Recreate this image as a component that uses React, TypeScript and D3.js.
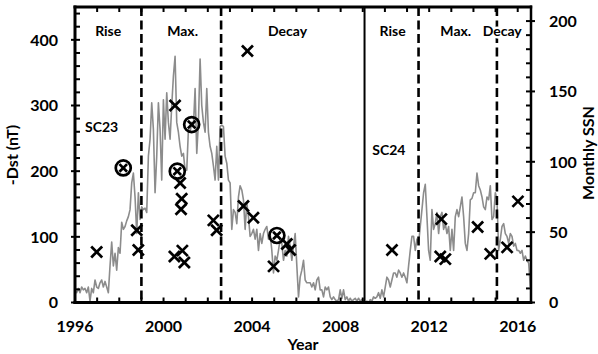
import React from "react";
import * as d3 from "d3";

// Monthly sunspot number sampled on a regular time grid starting at 1996.0
const ssnStart = 1996.0;
const ssnStep = 0.07535; // years between samples
const ssnValues = [
  8, 7, 10, 7, 11, 9, 10, 7, 11, 1, 10, 7, 16, 11, 10, 14, 16, 11, 15, 11,
  7, 26, 43, 26, 35, 23, 39, 35, 57, 52, 54, 58, 61, 66, 85, 92, 75, 49, 78, 59,
  68, 66, 67, 64, 104, 116, 142, 123, 78, 104, 142, 123, 87, 144, 116, 149, 128, 116, 140, 161,
  175, 128, 121, 111, 104, 106, 94, 94, 123, 121, 128, 125, 152, 106, 128, 173, 140, 128, 121, 152,
  121, 111, 106, 97, 87, 111, 87, 125, 126, 125,
  104, 99, 87, 85, 52, 66, 64, 56, 75, 83, 80, 73, 52, 71, 61, 47, 49, 52, 45, 52,
  37, 49, 42, 49, 52, 54, 45, 49, 37, 21, 33, 30, 37, 45, 42, 30, 37, 33, 47, 40,
  30, 40, 49, 26, 4, 18, 23, 30, 16, 14, 14, 14, 11, 14, 9, 16, 18, 9, 9, 4,
  11, 9, 11, 4, 2, 4, 2, 1, 2, 9, 3, 9, 2, 4, 1, 3, 1, 2, 3, 1,
  3, 1, 2, 1, 0, 1, 0, 2, 1, 4, 3, 4, 7, 3, 9, 4, 11, 18, 16, 11,
  16, 21, 21, 18, 23, 21, 18, 21, 18, 14, 26, 37, 47, 47, 37, 45, 42, 54, 66, 78,
  84, 61, 37, 30, 66, 52, 56, 64, 49, 61, 64, 52, 56, 49, 54, 37, 52, 37, 61, 66,
  61, 68, 75, 61, 42, 37, 49, 73, 74, 78, 78, 92, 83, 80, 75, 68, 66, 75, 73, 83,
  59, 61, 78, 73, 37, 45, 54, 56, 49, 47, 42, 49, 47, 40, 42, 37, 37, 35, 37, 30,
  33, 30, 28, 11,
];

// Storm events: plain crosses
const crossYears = [
  1996.98, 1998.79, 1998.86, 2000.52, 2000.49, 2000.75, 2000.82, 2000.79, 2000.85, 2000.94,
  2002.25, 2002.4, 2003.79, 2003.61, 2004.06, 2005.57, 2005.72, 2004.97,
  2010.32, 2012.55, 2012.5, 2012.73, 2014.19, 2014.76, 2015.52, 2016.01,
];
const crossDst = [
  77, 110, 80, 300, 70, 182, 158, 142, 79, 61,
  125, 110, 383, 147, 129, 89, 80, 55,
  80, 127, 70, 66, 115, 74, 84, 154,
];

// Storm events: circled crosses
const circleYears = [1998.18, 2000.62, 2001.27, 2005.12];
const circleDst = [205, 200, 271, 102];

// Phase boundaries
const dashedYears = [1999.0, 2002.6, 2011.52, 2015.06];
const cycleBoundary = 2009.08;

const phaseLabels = ["Rise", "Max.", "Decay", "Rise", "Max.", "Decay"];
const phaseLabelYears = [1997.5, 2000.86, 2005.6, 2010.35, 2013.2, 2015.3];
const cycleLabels = ["SC23", "SC24"];
const cycleLabelYears = [1997.2, 2010.18];
const cycleLabelDst = [259, 225];

const xTickLabels = [1996, 2000, 2004, 2008, 2012, 2016];
const leftTicks = [0, 100, 200, 300, 400];
const rightTicks = [0, 50, 100, 150, 200];

const W = 598;
const H = 354;
const left = 75;
const right = 531;
const top = 7;
const bottom = 302.5;
const font = "Lato, 'Open Sans', sans-serif";

export default function App() {
  const x = d3.scaleLinear().domain([1996, 2016.6]).range([left, right]);
  const yL = d3.scaleLinear().domain([0, 450]).range([bottom, top]);
  const yR = d3.scaleLinear().domain([0, 210]).range([bottom, top]);

  const line = d3
    .line<number>()
    .x((_, i) => x(ssnStart + i * ssnStep))
    .y((d) => yR(d));

  const yearTicks = d3.range(1997, 2017);
  const leftMinor = d3.range(20, 450, 20);
  const rightMinor = d3.range(10, 210, 10);

  const cs = 5.5;
  const cross = (cx: number, cy: number, s: number, key: string) => (
    <g key={key}>
      <line x1={cx - s} y1={cy - s} x2={cx + s} y2={cy + s} />
      <line x1={cx - s} y1={cy + s} x2={cx + s} y2={cy - s} />
    </g>
  );

  return (
    <svg width={W} height={H} style={{ position: "absolute", left: 0, top: 0 }}>
      <rect width={W} height={H} fill="#fff" />
      {/* SSN line */}
      <path d={line(ssnValues) || ""} fill="none" stroke="#8c8c8c" strokeWidth={1.6} strokeLinejoin="round" />

      {/* phase lines */}
      {dashedYears.map((yr, i) => (
        <line key={"d" + i} x1={x(yr)} x2={x(yr)} y1={top} y2={bottom} stroke="#000" strokeWidth={2.6} strokeDasharray="9,4.5" />
      ))}
      <line x1={x(cycleBoundary)} x2={x(cycleBoundary)} y1={top} y2={bottom} stroke="#000" strokeWidth={2} />

      {/* phase labels */}
      {phaseLabels.map((t, i) => (
        <text key={"p" + i} x={x(phaseLabelYears[i])} y={36} textAnchor="middle" fontFamily={font} fontWeight="bold" fontSize={14}
          stroke="#fff" strokeWidth={i === 5 ? 5 : 0} paintOrder="stroke" fill="#000">
          {t}
        </text>
      ))}
      {cycleLabels.map((t, i) => (
        <text key={"c" + i} x={x(cycleLabelYears[i])} y={yL(cycleLabelDst[i])} textAnchor="middle" fontFamily={font} fontWeight="bold" fontSize={14}>
          {t}
        </text>
      ))}

      {/* markers */}
      <g stroke="#000" strokeWidth={2.7} fill="none">
        {crossYears.map((yr, i) => cross(x(yr), yL(crossDst[i]), cs, "x" + i))}
        {circleYears.map((yr, i) => (
          <g key={"o" + i}>
            <circle cx={x(yr)} cy={yL(circleDst[i])} r={7.5} />
            {cross(x(yr), yL(circleDst[i]), 3.8, "oc" + i)}
          </g>
        ))}
      </g>

      {/* axes frame */}
      <g stroke="#000">
        <line x1={left} x2={left} y1={top - 1.5} y2={bottom + 1.5} strokeWidth={3} />
        <line x1={left - 1.5} x2={right + 1.2} y1={bottom} y2={bottom} strokeWidth={3} />
        <line x1={left - 1.5} x2={right + 1.2} y1={top} y2={top} strokeWidth={3} />
        <line x1={right} x2={right} y1={top - 1.5} y2={bottom + 1.5} strokeWidth={2.5} />
        {yearTicks.map((yr) => (
          <g key={"t" + yr}>
            <line x1={x(yr)} x2={x(yr)} y1={bottom} y2={bottom - 5} strokeWidth={2} />
            <line x1={x(yr)} x2={x(yr)} y1={top} y2={top + 5} strokeWidth={2} />
          </g>
        ))}
        {leftMinor.map((v) => (
          <line key={"lm" + v} x1={left} x2={left + 5} y1={yL(v)} y2={yL(v)} strokeWidth={2} />
        ))}
        {leftTicks.map((v) => (
          <line key={"lt" + v} x1={left - 4} x2={left} y1={yL(v)} y2={yL(v)} strokeWidth={2} />
        ))}
        {rightMinor.map((v) => (
          <line key={"rm" + v} x1={right - 5} x2={right} y1={yR(v)} y2={yR(v)} strokeWidth={2} />
        ))}
        {rightTicks.map((v) => (
          <line key={"rt" + v} x1={right} x2={right + 4} y1={yR(v)} y2={yR(v)} strokeWidth={2} />
        ))}
      </g>

      {/* tick labels */}
      <g fontFamily={font} fontWeight="bold" fontSize={16} fill="#000">
        {leftTicks.map((v) => (
          <text key={"ll" + v} x={left - 17} y={yL(v)} dy="0.36em" textAnchor="end">{v}</text>
        ))}
        {rightTicks.map((v) => (
          <text key={"rl" + v} x={right + 18} y={yR(v)} dy="0.36em" textAnchor="start">{v}</text>
        ))}
        {xTickLabels.map((v) => (
          <text key={"xl" + v} x={x(v)} y={332} textAnchor="middle">{v}</text>
        ))}
        <text x={303} y={350} textAnchor="middle">Year</text>
        <text transform={`translate(18,${155}) rotate(-90)`} textAnchor="middle">-Dst (nT)</text>
        <text transform={`translate(594,${153}) rotate(-90)`} textAnchor="middle">Monthly SSN</text>
      </g>
    </svg>
  );
}
